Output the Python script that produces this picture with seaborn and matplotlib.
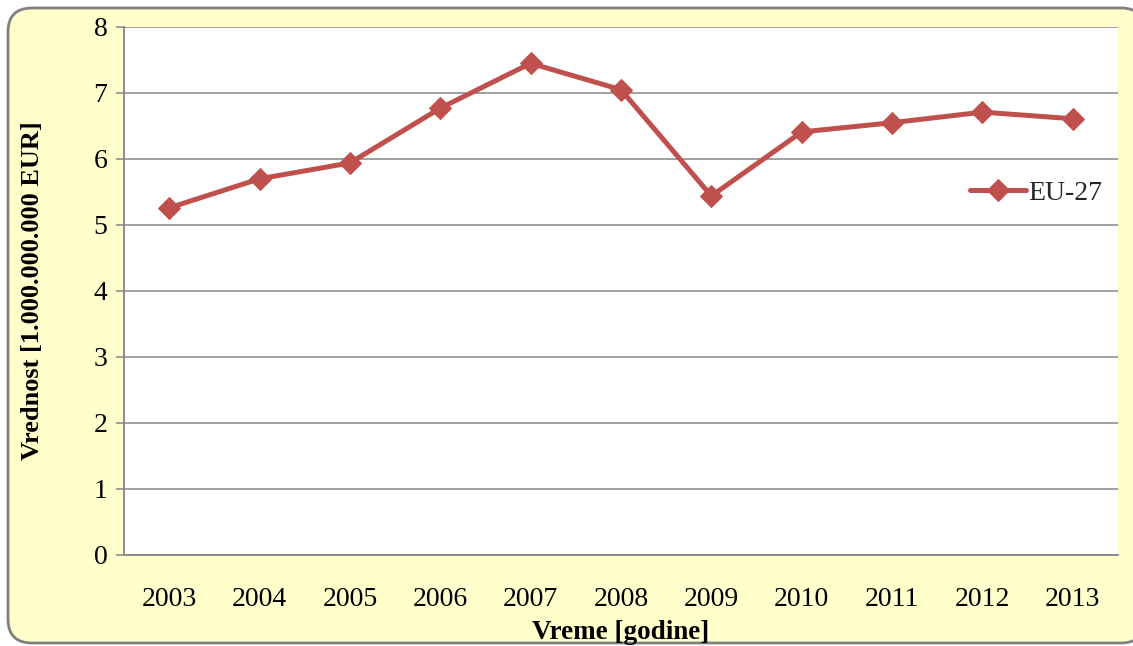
import matplotlib
matplotlib.use("Agg")
import matplotlib.pyplot as plt
from matplotlib.patches import FancyBboxPatch
from matplotlib.transforms import IdentityTransform
import seaborn as sns
import pandas as pd

years = [2003, 2004, 2005, 2006, 2007, 2008, 2009, 2010, 2011, 2012, 2013]
values = [5.26, 5.70, 5.94, 6.77, 7.45, 7.05, 5.44, 6.41, 6.55, 6.71, 6.61]
series_name = "EU-27"
x_label = "Vreme [godine]"
y_label = "Vrednost [1.000.000.000 EUR]"
y_ticks = [0, 1, 2, 3, 4, 5, 6, 7, 8]

sns.set_theme(style="white")
plt.rcParams["font.family"] = ["Liberation Serif", "DejaVu Serif"]

W, H = 1133, 646
fig = plt.figure(figsize=(W / 100, H / 100), dpi=100, facecolor="white")

# rounded chart-area frame, drawn in pixel units
frame = FancyBboxPatch((8, H - 643), 1145 - 8, 643 - 8,
                       boxstyle="round,pad=0,rounding_size=24",
                       transform=IdentityTransform(), facecolor="#FFFFCC",
                       edgecolor="#808080", linewidth=2.0,
                       zorder=-5, clip_on=False)
fig.patches.append(frame)

ax = fig.add_axes([124 / W, 1 - 555 / H, (1118 - 124) / W, (555 - 27) / H])
ax.set_zorder(1)
ax.set_facecolor("white")

df = pd.DataFrame({"year": years, "value": values, "series": series_name})
sns.lineplot(data=df, x="year", y="value", hue="series",
             palette=["#C0504D"], marker="D", markersize=11,
             markeredgecolor="#C0504D", linewidth=3.6, ax=ax)

ax.set_xlim(years[0] - 0.5, years[-1] + 0.5)
ax.set_ylim(0, 8)
ax.set_xticks(years)
ax.set_xticklabels([str(y) for y in years])
ax.set_yticks(y_ticks)
ax.yaxis.grid(True, color="#868686", linewidth=1.1)
ax.xaxis.grid(False)
ax.set_axisbelow(True)

for side in ["top", "right"]:
    ax.spines[side].set_visible(False)
for side in ["left", "bottom"]:
    ax.spines[side].set_color("#868686")
    ax.spines[side].set_linewidth(1.3)

ax.tick_params(axis="y", which="major", left=True, length=6, width=1.1,
               color="#868686", labelsize=20, pad=6, labelcolor="black")
ax.tick_params(axis="x", which="major", bottom=False, labelsize=20,
               pad=17, labelcolor="black")

ax.set_xlabel(x_label, fontsize=19.5, fontweight="bold", color="black")
ax.set_ylabel(y_label, fontsize=19, fontweight="bold", color="black")
ax.xaxis.set_label_coords(0.5, (555 - 620) / (555 - 27), transform=ax.transAxes)
ax.yaxis.set_label_coords((44 - 124) / (1118 - 124), 0.5, transform=ax.transAxes)

ax.legend_.remove()
handles, labels = ax.get_legend_handles_labels()
fig.legend(handles, labels, loc="center left",
           bbox_to_anchor=(970 / W, 1 - 193 / H), frameon=False,
           fontsize=20, handlelength=2.0, handletextpad=0.1,
           borderpad=0, borderaxespad=0)

fig.savefig("out.png", dpi=100, facecolor="white")
